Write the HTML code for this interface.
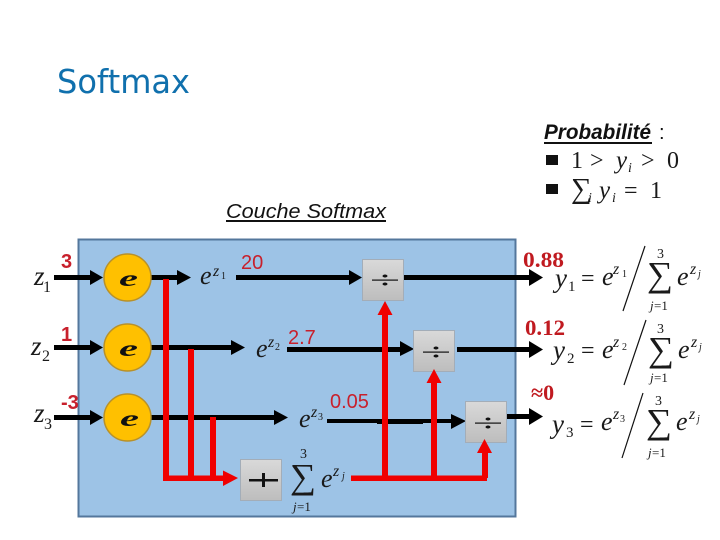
<!DOCTYPE html>
<html><head><meta charset="utf-8">
<style>
html,body{margin:0;padding:0;background:#fff}
svg{display:block}
.ser{font-family:"Liberation Serif",serif;font-style:italic;fill:#1a1a1a}
.sup{font-family:"Liberation Serif",serif;font-style:italic;fill:#1a1a1a;font-size:16px}
.up{font-family:"Liberation Serif",serif;fill:#1a1a1a}
.red{font-family:"Liberation Sans",sans-serif;fill:#c8202c;font-size:20px}
.redb{font-family:"Liberation Serif",serif;font-weight:bold;fill:#c01a20;font-size:22px}
</style></head><body>
<svg width="720" height="540" viewBox="0 0 720 540" xmlns="http://www.w3.org/2000/svg">
<defs>
<linearGradient id="g" x1="0" y1="0" x2="0" y2="1"><stop offset="0" stop-color="#d9d9d9"/><stop offset="1" stop-color="#bdbdbd"/></linearGradient>
</defs>
<text x="57" y="93" font-family="'DejaVu Sans','Liberation Sans',sans-serif" font-size="33" fill="#1070ad" textLength="133" lengthAdjust="spacingAndGlyphs">Softmax</text>

<text x="544" y="139" font-family="'Liberation Sans',sans-serif" font-size="21" font-weight="bold" font-style="italic" fill="#111" textLength="107" lengthAdjust="spacingAndGlyphs">Probabilité</text>
<rect x="544" y="142" width="108" height="2" fill="#111"/>
<text x="659" y="139" font-family="'Liberation Sans',sans-serif" font-size="20" fill="#111">:</text>
<rect x="546" y="155" width="12" height="10" fill="#111"/>
<rect x="546" y="184" width="12" height="10" fill="#111"/>
<text x="571" y="168" class="up" font-size="24">1</text>
<text x="590" y="168" class="up" font-size="24">&gt;</text>
<text x="616" y="168" class="ser" font-size="25">y</text>
<text x="628" y="172" class="ser" font-size="14">i</text>
<text x="641" y="168" class="up" font-size="24">&gt;</text>
<text x="667" y="168" class="up" font-size="24">0</text>
<text x="571" y="198" class="up" font-size="29">∑</text>
<text x="588" y="202" class="ser" font-size="14">i</text>
<text x="599" y="198" class="ser" font-size="25">y</text>
<text x="612" y="202" class="ser" font-size="14">i</text>
<text x="624" y="198" class="up" font-size="24">=</text>
<text x="650" y="198" class="up" font-size="24">1</text>

<text x="226" y="218" font-family="'Liberation Sans',sans-serif" font-size="20" font-style="italic" fill="#111" textLength="160" lengthAdjust="spacingAndGlyphs">Couche Softmax</text>
<rect x="226" y="220" width="160" height="2" fill="#111"/>

<rect x="78.5" y="239.5" width="437" height="277" fill="#9dc3e6" stroke="#54779c" stroke-width="2"/>

<!-- black lines -->
<g fill="#000">
<rect x="54" y="275" width="40" height="5"/><polygon points="90,270 103,277.5 90,285"/>
<rect x="54" y="345" width="40" height="5"/><polygon points="90,340 103,347.5 90,355"/>
<rect x="54" y="415" width="40" height="5"/><polygon points="90,410 103,417.5 90,425"/>
<rect x="150" y="275" width="30" height="5"/><polygon points="177,270 191,277.5 177,285"/>
<rect x="150" y="345" width="85" height="5"/><polygon points="231,340 245,347.5 231,355"/>
<rect x="150" y="415" width="128" height="5"/><polygon points="274,410 288,417.5 274,425"/>
<rect x="236" y="275" width="118" height="5"/><polygon points="349,270 362,277.5 349,285"/>
<rect x="287" y="347" width="118" height="5"/><polygon points="400,341 414,349 400,356"/>
<rect x="327" y="419" width="125" height="4"/><rect x="377" y="419" width="46" height="5"/><polygon points="451,414 466,421 451,429"/>
<rect x="404" y="275" width="128" height="5"/><polygon points="529,269 543,277.5 529,286"/>
<rect x="457" y="347" width="75" height="5"/><polygon points="529,341 543,349.5 529,358"/>
<rect x="504" y="414" width="28" height="5"/><polygon points="529,408 543,416.5 529,425"/>
</g>

<!-- circles -->
<g fill="#ffc000" stroke="#b8912a" stroke-width="1.5">
<circle cx="127.5" cy="277.5" r="23.5"/><circle cx="127.5" cy="347.5" r="23.5"/><circle cx="127.5" cy="417.5" r="23.5"/>
</g>
<g font-family="'Liberation Serif',serif" font-style="italic" font-weight="bold" font-size="23" fill="#111">
<text x="119" y="286" textLength="19" lengthAdjust="spacingAndGlyphs">e</text>
<text x="119" y="356" textLength="19" lengthAdjust="spacingAndGlyphs">e</text>
<text x="120" y="426" textLength="19" lengthAdjust="spacingAndGlyphs">e</text>
</g>

<!-- boxes -->
<g fill="url(#g)" stroke="#a3adb8" stroke-width="1">
<rect x="240.5" y="459.5" width="41" height="41"/>
<rect x="362.5" y="259.5" width="41" height="41"/>
<rect x="413.5" y="330.5" width="41" height="41"/>
<rect x="465.5" y="401.5" width="41" height="41"/>
</g>
<g fill="#111">
<rect x="249" y="479" width="29" height="2.5"/><rect x="262" y="473" width="3" height="14"/>
<rect x="372" y="279.5" width="26" height="1.2"/><ellipse cx="385" cy="276" rx="2.5" ry="1.5"/><ellipse cx="385" cy="284" rx="2.5" ry="1.5"/>
<rect x="423" y="351.5" width="26" height="1.2"/><ellipse cx="436" cy="348" rx="2.5" ry="1.5"/><ellipse cx="436" cy="356" rx="2.5" ry="1.5"/>
<rect x="475" y="422.5" width="26" height="1.2"/><ellipse cx="488" cy="419" rx="2.5" ry="1.5"/><ellipse cx="488" cy="427" rx="2.5" ry="1.5"/>
</g>

<!-- red lines -->
<g fill="#f00000">
<rect x="163" y="279" width="6" height="202"/>
<rect x="188" y="349" width="6" height="132"/>
<rect x="210" y="417" width="6" height="64"/>
<rect x="163" y="475.5" width="62" height="5.5"/><polygon points="223,470.5 238,478 223,486"/>
<rect x="351" y="475.5" width="136" height="5.5"/>
<rect x="382" y="312" width="6" height="166"/><polygon points="377.5,315 385,301 392.5,315"/>
<rect x="431" y="380" width="6" height="98"/><polygon points="426.5,383 434,369 441.5,383"/>
<rect x="482" y="450" width="6" height="28"/><polygon points="477,453 484.5,439 492,453"/>
</g>

<!-- z labels -->
<text x="34" y="285" class="ser" font-size="27">z</text><text x="43" y="292" class="up" font-size="16">1</text>
<text x="31" y="355" class="ser" font-size="27">z</text><text x="42" y="361" class="up" font-size="16">2</text>
<text x="34" y="422" class="ser" font-size="27">z</text><text x="44" y="429" class="up" font-size="16">3</text>

<!-- red values -->
<text x="61" y="268" class="red" font-weight="bold">3</text>
<text x="61" y="341" class="red" font-weight="bold">1</text>
<text x="61" y="409" class="red" font-weight="bold">-3</text>
<text x="241" y="269" class="red">20</text>
<text x="288" y="344" class="red">2.7</text>
<text x="330" y="408" class="red">0.05</text>
<text x="523" y="267" class="redb" textLength="41" lengthAdjust="spacingAndGlyphs">0.88</text>
<text x="525" y="335" class="redb" textLength="40" lengthAdjust="spacingAndGlyphs">0.12</text>
<text x="531" y="400" class="redb">≈0</text>

<!-- e^z mid -->
<text x="200" y="284" class="ser" font-size="26">e</text><text x="213" y="276" class="sup">z</text><text x="221" y="279" class="up" font-size="10">1</text>
<text x="256" y="357" class="ser" font-size="26">e</text><text x="268" y="347" class="sup">z</text><text x="275" y="350" class="up" font-size="10">2</text>
<text x="299" y="427" class="ser" font-size="26">e</text><text x="311" y="417" class="sup">z</text><text x="318" y="420" class="up" font-size="10">3</text>

<!-- sum in panel -->
<text x="300" y="458" class="up" font-size="14">3</text>
<text x="290" y="488" class="up" font-size="35" textLength="26" lengthAdjust="spacingAndGlyphs">∑</text>
<text x="321" y="487" class="ser" font-size="26">e</text><text x="333" y="476" class="sup">z</text><text x="342" y="479" class="ser" font-size="10">j</text>
<text x="293" y="511" class="ser" font-size="13">j</text><text x="297" y="511" class="up" font-size="13">=1</text>

<!-- formulas -->
<g>
<text x="555" y="287" class="ser" font-size="27">y</text><text x="568" y="291" class="up" font-size="15">1</text>
<text x="581" y="286" class="up" font-size="24">=</text>
<text x="602" y="285" class="ser" font-size="26">e</text><text x="613" y="274" class="sup">z</text><text x="622" y="277" class="up" font-size="10">1</text>
<line x1="645" y1="246" x2="623" y2="311" stroke="#111" stroke-width="1.2"/>
<text x="657" y="258" class="up" font-size="14">3</text>
<text x="647" y="286" class="up" font-size="35" textLength="26" lengthAdjust="spacingAndGlyphs">∑</text>
<text x="677" y="285" class="ser" font-size="26">e</text><text x="690" y="274" class="sup">z</text><text x="698" y="277" class="ser" font-size="10">j</text>
<text x="650" y="310" class="ser" font-size="13">j</text><text x="654" y="310" class="up" font-size="13">=1</text>
</g>
<g>
<text x="553" y="359" class="ser" font-size="27">y</text><text x="567" y="363" class="up" font-size="15">2</text>
<text x="581" y="358" class="up" font-size="24">=</text>
<text x="602" y="358" class="ser" font-size="26">e</text><text x="613" y="347" class="sup">z</text><text x="622" y="350" class="up" font-size="10">2</text>
<line x1="646" y1="320" x2="624" y2="385" stroke="#111" stroke-width="1.2"/>
<text x="657" y="333" class="up" font-size="14">3</text>
<text x="648" y="361" class="up" font-size="35" textLength="26" lengthAdjust="spacingAndGlyphs">∑</text>
<text x="678" y="358" class="ser" font-size="26">e</text><text x="691" y="347" class="sup">z</text><text x="699" y="350" class="ser" font-size="10">j</text>
<text x="650" y="382" class="ser" font-size="13">j</text><text x="654" y="382" class="up" font-size="13">=1</text>
</g>
<g>
<text x="552" y="433" class="ser" font-size="27">y</text><text x="566" y="437" class="up" font-size="15">3</text>
<text x="580" y="432" class="up" font-size="24">=</text>
<text x="601" y="430" class="ser" font-size="26">e</text><text x="613" y="419" class="sup">z</text><text x="620" y="422" class="up" font-size="10">3</text>
<line x1="643" y1="393" x2="622" y2="458" stroke="#111" stroke-width="1.2"/>
<text x="655" y="405" class="up" font-size="14">3</text>
<text x="646" y="433" class="up" font-size="35" textLength="26" lengthAdjust="spacingAndGlyphs">∑</text>
<text x="676" y="430" class="ser" font-size="26">e</text><text x="689" y="419" class="sup">z</text><text x="697" y="422" class="ser" font-size="10">j</text>
<text x="648" y="457" class="ser" font-size="13">j</text><text x="652" y="457" class="up" font-size="13">=1</text>
</g>
</svg>
</body></html>
